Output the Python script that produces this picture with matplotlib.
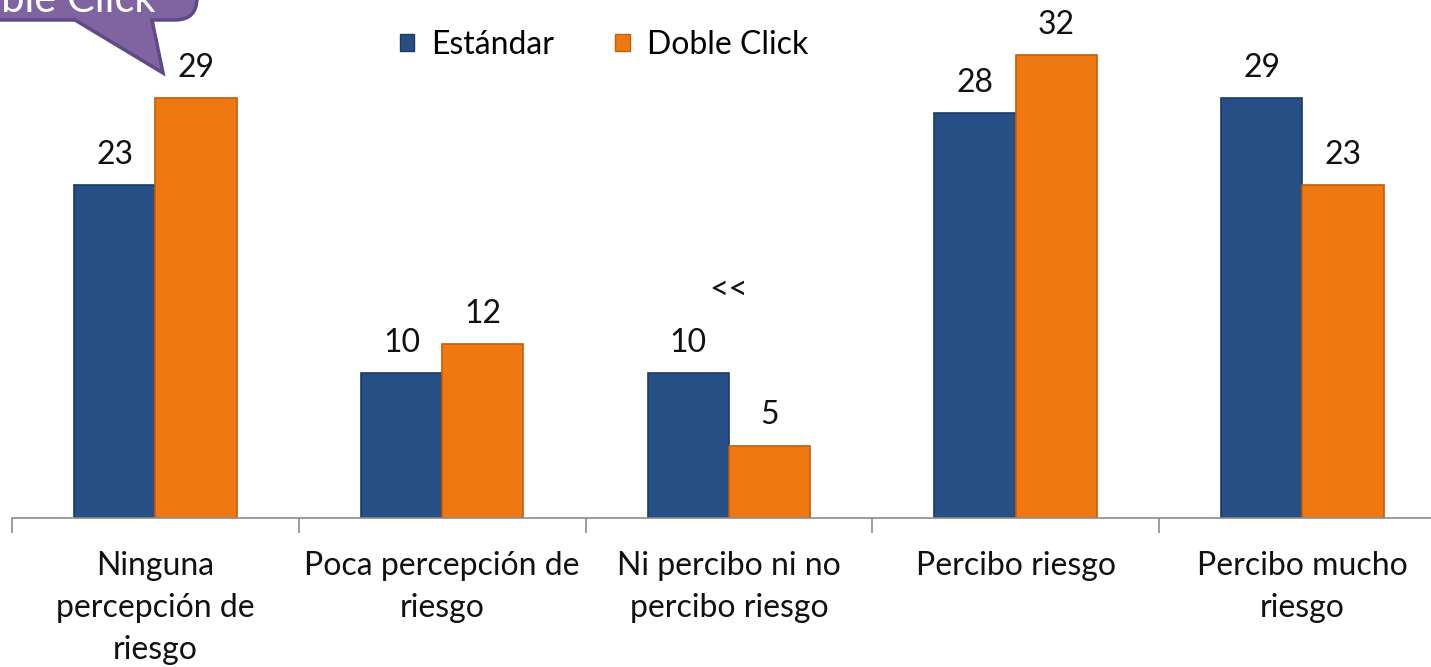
import matplotlib
matplotlib.use("Agg")
import matplotlib.pyplot as plt
import numpy as np
from matplotlib.path import Path
from matplotlib.patches import PathPatch, Patch

# Data
categories = [
    "Ninguna\npercepción de\nriesgo",
    "Poca percepción de\nriesgo",
    "Ni percibo ni no\npercibo riesgo",
    "Percibo riesgo",
    "Percibo mucho\nriesgo",
]
estandar = [23, 10, 10, 28, 29]
doble_click = [29, 12, 5, 32, 23]
series_names = ["Estándar", "Doble Click"]

plt.rcParams["font.family"] = ["Lato", "DejaVu Sans"]

W, H = 1431, 667
fig = plt.figure(figsize=(W / 100, H / 100), dpi=100)

# Axes: baseline at y=518 px, one category = ~286.75 px, left edge at x=12 px
base_px = 518
cat_px = 286.75
ax = fig.add_axes([12 / W, (H - base_px) / H, (W - 12) / W, base_px / H])

x = np.arange(len(categories))
bw = 0.283
blue = "#264F85"
orange = "#F07812"
b1 = ax.bar(x - bw / 2, estandar, bw, color=blue, edgecolor="#1C3B63", linewidth=1.2,
            label=series_names[0])
b2 = ax.bar(x + bw / 2, doble_click, bw, color=orange, edgecolor="#C45E08", linewidth=1.2,
            label=series_names[1])

ax.bar_label(b1, padding=11, fontsize=23, color="#111111")
ax.bar_label(b2, padding=11, fontsize=23, color="#111111")

# Axis styling
for s in ["top", "right", "left"]:
    ax.spines[s].set_visible(False)
ax.spines["bottom"].set_color("#8C8C8C")
ax.spines["bottom"].set_linewidth(1.2)
ax.set_yticks([])
ax.set_xticks(x)
ax.set_xticklabels(categories, fontsize=23, linespacing=1.5, color="#111111")
ax.tick_params(axis="x", which="major", length=0, pad=24)
ax.set_xticks(np.arange(len(categories) + 1) - 0.5, minor=True)
ax.tick_params(axis="x", which="minor", length=11, color="#8C8C8C", width=1.2)

ax.set_xlim(-0.5, -0.5 + (W - 12) / cat_px)
ax.set_ylim(0, base_px / 14.47)

ax.text(2, 15.8, "<<", ha="center", va="center", fontsize=24, color="#111111")

# Legend
handles = [Patch(facecolor=blue, edgecolor="#1C3B63"),
           Patch(facecolor=orange, edgecolor="#C45E08")]
fig.legend(handles, series_names, loc="center", bbox_to_anchor=(604 / W, 1 - 45 / H),
           ncol=2, frameon=False, fontsize=23, handlelength=0.45, handleheight=0.45,
           handletextpad=0.55, columnspacing=1.9)

# Purple callout in the top-left corner (cut off by the figure edge)
def fp(px, py):
    return (px / W, 1 - py / H)

verts = [fp(75, 20), fp(163, 73), fp(152, 20), fp(175, 20), fp(197, 20), fp(197, -2),
         fp(197, -40), fp(-40, -40), fp(-40, 20), fp(75, 20)]
codes = [Path.MOVETO, Path.LINETO, Path.LINETO, Path.LINETO, Path.CURVE3, Path.CURVE3,
         Path.LINETO, Path.LINETO, Path.LINETO, Path.CLOSEPOLY]
bubble = PathPatch(Path(verts, codes), facecolor="#8064A2", edgecolor="#5E4A85",
                   linewidth=2.5, transform=fig.transFigure, zorder=10)
fig.patches.append(bubble)
fig.text(156 / W, 1 - 12 / H, "Doble Click", ha="right", va="baseline", fontsize=30,
         color="white", zorder=11)

fig.savefig("out.png", dpi=100, facecolor="white")
